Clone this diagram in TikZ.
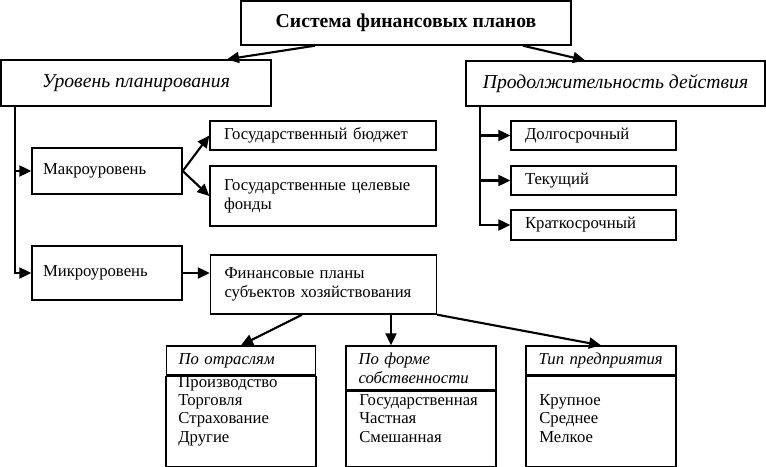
\documentclass[tikz,border=0pt]{standalone}
\usepackage{fontspec}
\setmainfont{Liberation Serif}
\usetikzlibrary{arrows.meta}
\tikzset{
  box/.style={draw, line width=0.8pt, inner ysep=0pt, font=\fontsize{9.5}{11}\selectfont},
  lbox/.style={box, align=left, text width=#1},
  head/.style={box, font=\fontsize{11.2}{13}\selectfont\itshape},
  sub/.style={lbox=2.5cm, font=\fontsize{9.5}{10.9}\selectfont\itshape, minimum height=0.58cm},
  body/.style={box, anchor=north, minimum width=3cm},
  lst/.style={align=left, inner sep=0pt, font=\fontsize{9.5}{10.4}\selectfont, anchor=base west},
  arr/.style={line width=1.2pt, -{Triangle[length=0.24cm,width=0.22cm]}},
}
\begin{document}
\begin{tikzpicture}[x=0.02cm,y=-0.02cm]
\useasboundingbox (0,0) rectangle (766,466);
% top level
\node[box, font=\fontsize{11.2}{13}\selectfont\bfseries, minimum width=6.6cm, minimum height=0.88cm] (sys) at (406,23) {Система финансовых планов};
\node[head, minimum width=5.4cm, minimum height=0.92cm] (lvl) at (136,83) {Уровень планирования};
\node[head, minimum width=5.98cm, minimum height=0.9cm] (dur) at (615.5,83.5) {Продолжительность действия};
\draw[arr] ([xshift=-1.82cm]sys.south) -- ([xshift=1.82cm]lvl.north);
\draw[arr] ([xshift=2.34cm]sys.south) -- ([xshift=-0.61cm]dur.north);
% duration
\node[lbox=2.74cm, inner xsep=0.28cm, minimum height=0.58cm] (lterm) at (593.5,135.5) {Долгосрочный};
\node[lbox=2.74cm, inner xsep=0.28cm, minimum height=0.58cm] (cterm) at (593.5,180.5) {Текущий};
\node[lbox=2.74cm, inner xsep=0.28cm, minimum height=0.6cm] (sterm) at (593.5,225) {Краткосрочный};
\coordinate (dsp) at ([xshift=0.3cm]dur.south west);
\draw[arr] (dsp) |- (sterm.west);
\draw[arr] (dsp |- lterm.west) -- (lterm.west);
\draw[arr] (dsp |- cterm.west) -- (cterm.west);
% planning level
\node[lbox=2.56cm, inner xsep=0.22cm, minimum height=0.92cm] (macro) at (107,171) {Макроуровень};
\node[lbox=2.56cm, inner xsep=0.22cm, minimum height=1.08cm] (micro) at (107,273) {Микроуровень};
\coordinate (lsp) at ([xshift=0.3cm]lvl.south west);
\draw[arr] (lsp) |- (micro.west);
\draw[arr] (lsp |- macro.west) -- (macro.west);
\node[lbox=3.96cm, inner xsep=0.28cm, minimum height=0.58cm] (budget) at (323,135.5) {Государственный бюджет};
\node[lbox=3.96cm, inner xsep=0.28cm, minimum height=1.2cm] (funds) at (323,196) {Государственные целевые\\фонды};
\node[lbox=3.96cm, inner xsep=0.28cm, minimum height=1.18cm] (fin) at (323.5,284.5) {Финансовые планы\\субъектов хозяйствования};
\draw[arr] (macro.east) -- (budget.west);
\draw[arr] (macro.east) -- (funds.west);
\draw[arr] (micro.east) -- (micro.east -| fin.west);
% kinds of plans
\node[sub, inner xsep=0.24cm] (ind) at (241,360.5) {По отраслям};
\node[sub, inner xsep=0.25cm, minimum height=0.88cm] (own) at (421,368) {По форме\\собственности};
\node[sub, inner xsep=0.25cm] (typ) at (601,360.5) {Тип предприятия};
\node[body, minimum height=1.8cm] (indb) at (ind.south) {};
\node[body, minimum height=1.5cm] (ownb) at (own.south) {};
\node[body, minimum height=1.8cm] (typb) at (typ.south) {};
\node[lst] (indl) at (178,442) {Производство\\Торговля\\Страхование\\Другие};
\node[lst] (ownl) at (359,442) {Государственная\\Частная\\Смешанная};
\node[lst] (typl) at (539,442) {Крупное\\Среднее\\Мелкое};
\coordinate (ownin) at ([xshift=-0.6cm]own.north);
\draw[arr] ([xshift=-0.43cm]fin.south) -- (ind.north);
\draw[arr] (fin.south -| ownin) -- (ownin);
\draw[arr] (fin.south east) -- (typ.north);
\end{tikzpicture}
\end{document}
